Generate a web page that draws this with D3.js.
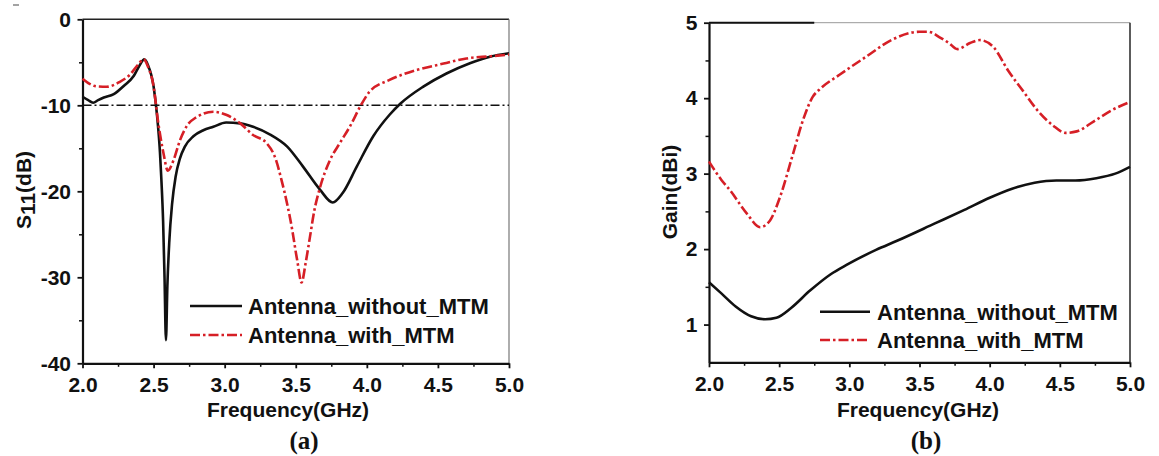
<!DOCTYPE html>
<html>
<head>
<meta charset="utf-8">
<script src="https://cdn.jsdelivr.net/npm/d3@7"></script>
<style>
  html, body { margin: 0; padding: 0; background: #fff; }
  svg { display: block; }
  .tick text { font-family: Arial, "Liberation Sans", sans-serif; font-weight: bold; font-size: 21px; fill: #111; }
</style>
</head>
<body>
<svg id="fig" width="1159" height="456"></svg>
<script>
// ---- (a) Return loss S11 ----
const s11FreqWithout = [2.00, 2.04, 2.075, 2.11, 2.15, 2.22, 2.29, 2.36, 2.40, 2.435, 2.46, 2.50, 2.525, 2.545, 2.555, 2.567, 2.577, 2.587, 2.597, 2.61, 2.63, 2.655, 2.685, 2.72, 2.78, 2.85, 2.92, 3.01, 3.11, 3.20, 3.32, 3.44, 3.55, 3.67, 3.76, 3.83, 3.93, 4.045, 4.16, 4.233, 4.40, 4.56, 4.725, 4.866, 5.00];
const s11Without     = [-9.0, -9.4, -9.7, -9.4, -9.1, -8.7, -7.75, -6.6, -5.4, -4.65, -5.3, -7.8, -11.3, -15.5, -18.7, -23.5, -30.0, -37.3, -31.0, -26.0, -21.5, -18.3, -16.2, -14.8, -13.6, -12.9, -12.5, -12.0, -12.1, -12.5, -13.4, -14.8, -17.1, -19.8, -21.3, -20.2, -17.1, -13.6, -11.1, -9.85, -7.8, -6.3, -5.1, -4.35, -3.95];

const s11FreqWith = [2.00, 2.05, 2.10, 2.17, 2.26, 2.33, 2.39, 2.43, 2.46, 2.50, 2.53, 2.57, 2.60, 2.64, 2.685, 2.73, 2.80, 2.92, 3.01, 3.11, 3.20, 3.295, 3.36, 3.40, 3.44, 3.47, 3.51, 3.541, 3.57, 3.60, 3.63, 3.67, 3.74, 3.81, 3.88, 3.963, 4.02, 4.16, 4.35, 4.54, 4.70, 4.87, 5.00];
const s11With     = [-6.9, -7.5, -7.8, -7.85, -7.3, -6.5, -5.3, -4.65, -5.5, -7.8, -11.7, -15.6, -17.6, -16.4, -14.1, -12.5, -11.4, -10.75, -11.1, -12.1, -13.45, -14.4, -16.3, -18.7, -21.5, -24.0, -28.0, -30.6, -28.3, -25.3, -22.3, -19.6, -16.4, -14.4, -12.5, -9.85, -8.4, -7.05, -5.9, -5.15, -4.55, -4.3, -4.1];

const s11Threshold = -10;
const s11Ticks = [-40, -30, -20, -10, 0];
const s11Minor = [-35, -25, -15, -5];

// ---- (b) Gain ----
const gainFreqWithout = [2.00, 2.09, 2.19, 2.30, 2.40, 2.48, 2.585, 2.72, 2.87, 2.98, 3.19, 3.34, 3.61, 3.82, 4.00, 4.16, 4.32, 4.475, 4.61, 4.76, 4.895, 5.00];
const gainWithout     = [1.56, 1.41, 1.24, 1.11, 1.07, 1.09, 1.22, 1.45, 1.67, 1.79, 1.99, 2.11, 2.34, 2.52, 2.68, 2.80, 2.88, 2.91, 2.91, 2.94, 3.00, 3.09];

const gainFreqWith = [2.00, 2.087, 2.15, 2.27, 2.364, 2.435, 2.506, 2.60, 2.67, 2.74, 2.79, 2.93, 3.12, 3.31, 3.50, 3.56, 3.65, 3.71, 3.77, 3.86, 3.93, 4.03, 4.13, 4.24, 4.34, 4.45, 4.54, 4.62, 4.74, 4.87, 5.00];
const gainWith     = [3.16, 2.92, 2.78, 2.47, 2.29, 2.38, 2.69, 3.27, 3.71, 4.02, 4.12, 4.31, 4.55, 4.78, 4.88, 4.88, 4.80, 4.73, 4.65, 4.73, 4.77, 4.67, 4.37, 4.09, 3.84, 3.64, 3.54, 3.56, 3.69, 3.84, 3.95];

const gainTicks = [1, 2, 3, 4, 5];
const gainMinor = [1.5, 2.5, 3.5, 4.5];

const freqTicks = [2.0, 2.5, 3.0, 3.5, 4.0, 4.5, 5.0];
const freqMinor = [2.25, 2.75, 3.25, 3.75, 4.25, 4.75];

const seriesNames = ["Antenna_without_MTM", "Antenna_with_MTM"];

const RED = "#d61f26";
const DASHDOT = "10,3,2.5,3";
const LW = 2.6;
const FONT = 'Arial, "Liberation Sans", sans-serif';

const svg = d3.select("#fig");

// small stray mark at the top-left corner of the figure
svg.append("line").attr("x1", 13).attr("x2", 19).attr("y1", 5).attr("y2", 5)
  .attr("stroke", "#666").attr("stroke-width", 1.2);

function panel(opts) {
  const g = svg.append("g");
  const x = d3.scaleLinear().domain([2, 5]).range(opts.xr);
  const y = d3.scaleLinear().domain(opts.yd).range(opts.yr);

  // frame (top / right)
  g.append("line").attr("x1", opts.xr[0]).attr("x2", opts.xr[1]).attr("y1", opts.yr[1]).attr("y2", opts.yr[1])
    .attr("stroke", opts.topColor).attr("stroke-width", opts.topWidth);
  if (opts.topSegment) {
    g.append("line").attr("x1", opts.xr[0]).attr("x2", x(opts.topSegment)).attr("y1", opts.yr[1]).attr("y2", opts.yr[1])
      .attr("stroke", "#111").attr("stroke-width", 2);
  }
  g.append("line").attr("x1", opts.xr[1]).attr("x2", opts.xr[1]).attr("y1", opts.yr[0]).attr("y2", opts.yr[1])
    .attr("stroke", opts.rightColor).attr("stroke-width", opts.rightWidth);

  // minor ticks
  g.append("g").attr("transform", `translate(0,${opts.yr[0]})`)
    .call(d3.axisBottom(x).tickValues(freqMinor).tickSize(3.5).tickFormat(""))
    .call(s => s.select(".domain").remove())
    .call(s => s.selectAll("line").attr("stroke", "#111").attr("stroke-width", 1.5));
  g.append("g").attr("transform", `translate(${opts.xr[0]},0)`)
    .call(d3.axisLeft(y).tickValues(opts.minor).tickSize(3.5).tickFormat(""))
    .call(s => s.select(".domain").remove())
    .call(s => s.selectAll("line").attr("stroke", "#111").attr("stroke-width", 1.5));

  // major axes
  g.append("g").attr("transform", `translate(0,${opts.yr[0]})`)
    .call(d3.axisBottom(x).tickValues(freqTicks).tickSize(5).tickSizeOuter(0).tickPadding(9).tickFormat(d3.format(".1f")))
    .call(s => s.select(".domain").attr("stroke", "#111").attr("stroke-width", 2.2))
    .call(s => s.selectAll(".tick line").attr("stroke", "#111").attr("stroke-width", 1.8));
  g.append("g").attr("transform", `translate(${opts.xr[0]},0)`)
    .call(d3.axisLeft(y).tickValues(opts.ticks).tickSize(5).tickSizeOuter(0).tickPadding(6.5).tickFormat(d => String(d).replace("\u2212", "-")))
    .call(s => s.select(".domain").attr("stroke", "#111").attr("stroke-width", 2.2))
    .call(s => s.selectAll(".tick line").attr("stroke", "#111").attr("stroke-width", 1.8));

  const line = d3.line().x(d => x(d[0])).y(d => y(d[1])).curve(d3.curveMonotoneX);

  if (opts.threshold !== undefined) {
    g.append("line").attr("x1", opts.xr[0]).attr("x2", opts.xr[1])
      .attr("y1", y(opts.threshold)).attr("y2", y(opts.threshold))
      .attr("stroke", "#111").attr("stroke-width", 1.6).attr("stroke-dasharray", "9,3,2,3");
  }

  g.append("path").datum(d3.zip(opts.fWithout, opts.vWithout)).attr("d", line)
    .attr("fill", "none").attr("stroke", "#111").attr("stroke-width", LW).attr("stroke-linejoin", "round");
  g.append("path").datum(d3.zip(opts.fWith, opts.vWith)).attr("d", line)
    .attr("fill", "none").attr("stroke", RED).attr("stroke-width", LW).attr("stroke-dasharray", DASHDOT);

  // legend
  const L = opts.legend;
  g.append("line").attr("x1", L.x0).attr("x2", L.x1).attr("y1", L.y0).attr("y2", L.y0)
    .attr("stroke", "#111").attr("stroke-width", LW);
  g.append("line").attr("x1", L.x0).attr("x2", L.x1).attr("y1", L.y1).attr("y2", L.y1)
    .attr("stroke", RED).attr("stroke-width", LW).attr("stroke-dasharray", DASHDOT);
  [L.y0, L.y1].forEach((yy, i) => {
    g.append("text").attr("x", L.tx).attr("y", yy).attr("dy", "0.36em")
      .attr("font-family", FONT).attr("font-weight", "bold").attr("font-size", 22).attr("fill", "#111")
      .text(seriesNames[i]);
  });

  // axis titles
  g.append("text").attr("x", opts.xTitleX).attr("y", 417).attr("text-anchor", "middle")
    .attr("font-family", FONT).attr("font-weight", "bold").attr("font-size", 21).attr("fill", "#111")
    .text("Frequency(GHz)");
  const yt = g.append("text").attr("transform", `translate(${opts.yTitle[0]},${opts.yTitle[1]}) rotate(-90)`)
    .attr("text-anchor", "middle")
    .attr("font-family", FONT).attr("font-weight", "bold").attr("font-size", 21).attr("fill", "#111");
  opts.yTitleParts(yt);

  // panel caption
  g.append("text").attr("x", opts.captionX).attr("y", 449).attr("text-anchor", "middle")
    .attr("font-family", '"Times New Roman", "Liberation Serif", serif').attr("font-weight", "bold")
    .attr("font-size", 25).attr("fill", "#111").text(opts.caption);
}

panel({
  xr: [82.5, 509], yd: [-40, 0], yr: [363.3, 19.3],
  ticks: s11Ticks, minor: s11Minor, threshold: s11Threshold,
  fWithout: s11FreqWithout, vWithout: s11Without, fWith: s11FreqWith, vWith: s11With,
  topColor: "#222", topWidth: 1.5, rightColor: "#777", rightWidth: 1.2,
  legend: { x0: 190, x1: 242, y0: 306, y1: 335, tx: 248 },
  xTitleX: 288, captionX: 304, caption: "(a)",
  yTitle: [31, 190],
  yTitleParts: t => {
    t.append("tspan").text("S");
    t.append("tspan").attr("dy", "0.18em").text("11");
    t.append("tspan").attr("dy", "-0.18em").text("(dB)");
  }
});

panel({
  xr: [709, 1130], yd: [0.5, 5], yr: [362.3, 22.7],
  ticks: gainTicks, minor: gainMinor,
  fWithout: gainFreqWithout, vWithout: gainWithout, fWith: gainFreqWith, vWith: gainWith,
  topColor: "#999", topWidth: 1, topSegment: 2.75, rightColor: "#333", rightWidth: 1.6,
  legend: { x0: 820, x1: 870, y0: 311.7, y1: 340, tx: 877 },
  xTitleX: 918, captionX: 926, caption: "(b)",
  yTitle: [677, 192],
  yTitleParts: t => t.text("Gain(dBi)")
});
</script>
</body>
</html>
